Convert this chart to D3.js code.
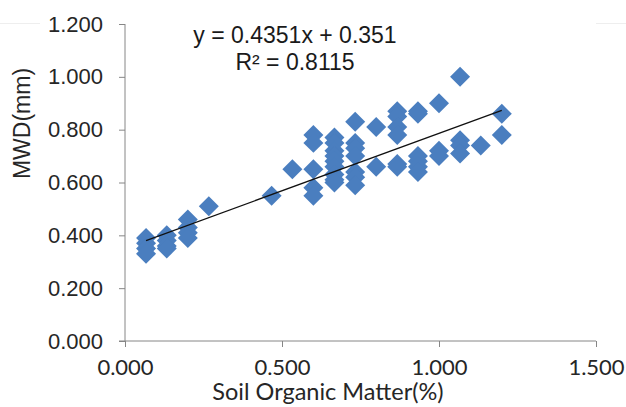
<!DOCTYPE html>
<html lang="en">
<head>
  <meta charset="UTF-8">
  <title>MWD vs SOM</title>
  <script src="https://d3js.org/d3.v7.min.js"></script>
</head>
<body style="margin: 0; overflow: hidden; background: #fff;">

<script>
  //Data (soil organic matter %, MWD mm)
  const som = [
    0.067, 0.067, 0.067, 0.067,
    0.133, 0.133, 0.133, 0.133,
    0.2, 0.2, 0.2, 0.2,
    0.267,
    0.467,
    0.533,
    0.6, 0.6, 0.6, 0.6, 0.6,
    0.667, 0.667, 0.667, 0.667, 0.667, 0.667, 0.667, 0.667, 0.667,
    0.733, 0.733, 0.733, 0.733, 0.733, 0.733, 0.733,
    0.8, 0.8,
    0.867, 0.867, 0.867, 0.867, 0.867, 0.867,
    0.933, 0.933, 0.933, 0.933, 0.933, 0.933,
    1.0, 1.0, 1.0,
    1.067, 1.067, 1.067, 1.067,
    1.133,
    1.2, 1.2
  ];
  const mwd = [
    0.39, 0.37, 0.35, 0.33,
    0.40, 0.38, 0.36, 0.35,
    0.46, 0.43, 0.41, 0.39,
    0.51,
    0.55,
    0.65,
    0.78, 0.75, 0.65, 0.58, 0.55,
    0.77, 0.75, 0.72, 0.70, 0.68, 0.66, 0.63, 0.61, 0.60,
    0.83, 0.75, 0.73, 0.70, 0.64, 0.62, 0.59,
    0.81, 0.66,
    0.87, 0.85, 0.81, 0.78, 0.67, 0.66,
    0.87, 0.86, 0.70, 0.68, 0.66, 0.64,
    0.90, 0.72, 0.70,
    1.00, 0.76, 0.74, 0.71,
    0.74,
    0.86, 0.78
  ];
  const xTicks = [0, 0.5, 1.0, 1.5];
  const yTicks = [0, 0.2, 0.4, 0.6, 0.8, 1.0, 1.2];
  const slope = 0.4351;
  const intercept = 0.351;
  const eqLines = ['y = 0.4351x + 0.351', 'R² = 0.8115'];

  const width = 626, height = 407;
  const margin = {left: 125, right: 30, top: 24, bottom: 66};

  const svg = d3.select('body').append('svg')
    .attr('width', width)
    .attr('height', height);

  const x = d3.scaleLinear().domain([0, 1.5]).range([margin.left, width - margin.right]);
  const y = d3.scaleLinear().domain([0, 1.2]).range([height - margin.bottom, margin.top]);

  const axisColor = '#868686';

  //faint frame remnants at the top
  svg.append('line').attr('x1', 0).attr('x2', 40).attr('y1', 23.5).attr('y2', 23.5)
    .attr('stroke', '#eeeeee');
  svg.append('line').attr('x1', 596).attr('x2', 626).attr('y1', 23.5).attr('y2', 23.5)
    .attr('stroke', '#eeeeee');

  //Y axis
  const yAxis = svg.append('g')
    .attr('transform', `translate(${margin.left},0)`)
    .call(d3.axisLeft(y).tickValues(yTicks).tickFormat(d3.format('.3f')).tickSize(6).tickPadding(16));
  yAxis.selectAll('path, line').attr('stroke', axisColor);
  yAxis.select('.domain').attr('d', `M0,${y(1.2)}V${y(0)}`);
  yAxis.selectAll('text')
    .style('font-family', '"Liberation Sans", Arial, sans-serif')
    .style('font-size', '22px')
    .attr('fill', '#262626');

  //X axis
  const xAxis = svg.append('g')
    .attr('transform', `translate(0,${y(0)})`)
    .call(d3.axisBottom(x).tickValues(xTicks).tickFormat(d3.format('.3f')).tickSize(6).tickPadding(12));
  xAxis.selectAll('path, line').attr('stroke', axisColor);
  xAxis.select('.domain').attr('d', `M${x(0) - 6},0H${x(1.5)}`);
  xAxis.selectAll('text')
    .style('font-family', 'Lato, sans-serif')
    .style('font-size', '22px')
    .attr('fill', '#262626');

  //Points
  const points = som.map((d, i) => [d, mwd[i]]);
  svg.append('g')
    .selectAll('path')
    .data(points)
    .join('path')
    .attr('d', d3.symbol().type(d3.symbolSquare).size(200))
    .attr('transform', d => `translate(${x(d[0])},${y(d[1])}) rotate(45)`)
    .attr('fill', '#4a7ebf');

  //Trend line across data range
  const xMin = d3.min(som), xMax = d3.max(som);
  svg.append('line')
    .attr('x1', x(xMin)).attr('y1', y(slope * xMin + intercept))
    .attr('x2', x(xMax)).attr('y2', y(slope * xMax + intercept))
    .attr('stroke', '#111')
    .attr('stroke-width', 1.3);

  //Equation
  svg.append('g')
    .selectAll('text')
    .data(eqLines)
    .join('text')
    .attr('x', 295)
    .attr('y', (d, i) => 43 + i * 27)
    .attr('text-anchor', 'middle')
    .style('font-family', '"Liberation Sans", Arial, sans-serif')
    .style('font-size', '23px')
    .attr('fill', '#1a1a1a')
    .text(d => d);

  //Axis titles
  svg.append('text')
    .attr('transform', `translate(30,${(y(1.2) + y(0)) / 2 - 59}) rotate(-90)`)
    .attr('text-anchor', 'middle')
    .style('font-family', '"Liberation Sans", Arial, sans-serif')
    .style('font-size', '23px')
    .attr('fill', '#262626')
    .text('MWD(mm)');

  svg.append('text')
    .attr('x', 328)
    .attr('y', 400)
    .attr('text-anchor', 'middle')
    .style('font-family', 'Lato, sans-serif')
    .style('font-size', '23.5px')
    .attr('fill', '#262626')
    .text('Soil Organic Matter(%)');
</script>

</body>
</html>
